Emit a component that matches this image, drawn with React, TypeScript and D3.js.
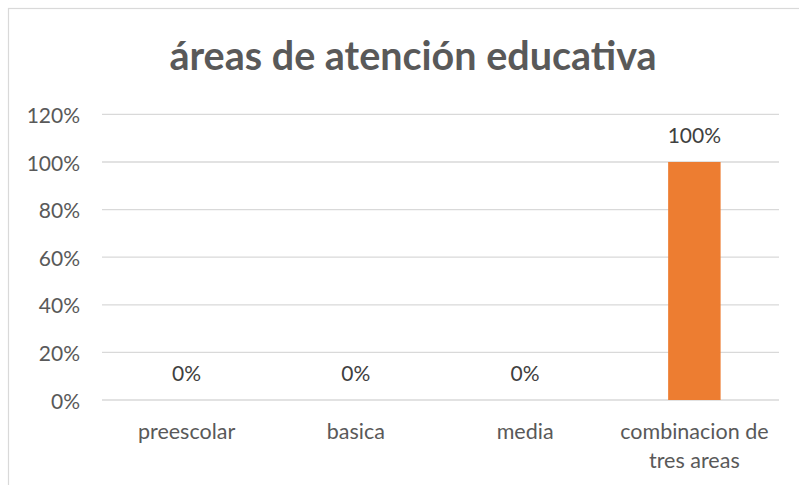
import React from "react";
import * as d3 from "d3";

const categories: string[][] = [["preescolar"], ["basica"], ["media"], ["combinacion de", "tres areas"]];
const values: number[] = [0, 0, 0, 1];
const yTicks: number[] = [0, 0.2, 0.4, 0.6, 0.8, 1.0, 1.2];
const title = "áreas de atención educativa";

const W = 799;
const H = 485;
const FONT = "Lato, 'Open Sans', sans-serif";

export default function App() {
  const left = 102;
  const right = 779;
  const x = d3
    .scaleBand<number>()
    .domain(values.map((_, i) => i))
    .range([left, right])
    .paddingInner(0.69)
    .paddingOuter(0.345);
  const band = d3.scaleBand<number>().domain(values.map((_, i) => i)).range([left, right]);
  const y = d3.scaleLinear().domain([0, 1.2]).range([400, 114.4]);
  const fmt = d3.format(".0%");

  return (
    <svg
      width={W}
      height={H}
      style={{ position: "absolute", left: 0, top: 0, background: "#fff" }}
    >
      <rect x={8.5} y={8.5} width={900} height={600} fill="#fff" stroke="#d9d9d9" strokeWidth={1.2} />
      <text
        x={413}
        y={70}
        textAnchor="middle"
        fontFamily={FONT}
        fontWeight="bold"
        fontSize={39.5}
        fill="#595959"
      >
        {title}
      </text>
      {yTicks.map((t) => (
        <g key={t}>
          <line x1={left} x2={right} y1={y(t)} y2={y(t)} stroke="#d9d9d9" strokeWidth={1.3} />
          <text
            x={80}
            y={y(t)}
            textAnchor="end"
            dominantBaseline="central"
            fontFamily={FONT}
            fontSize={21}
            fill="#595959"
          >
            {fmt(t)}
          </text>
        </g>
      ))}
      {values.map((v, i) => (
        <g key={i}>
          <rect
            x={x(i)}
            y={y(v)}
            width={x.bandwidth()}
            height={y(0) - y(v)}
            fill="#ed7d31"
          />
          <text
            x={(x(i) as number) + x.bandwidth() / 2}
            y={y(v) - 19}
            textAnchor="middle"
            fontFamily={FONT}
            fontSize={21}
            fill="#404040"
          >
            {fmt(v)}
          </text>
          {categories[i].map((line, j) => (
            <text
              key={j}
              x={(band(i) as number) + band.bandwidth() / 2}
              y={439 + j * 29}
              textAnchor="middle"
              fontFamily={FONT}
              fontSize={21.5}
              fill="#595959"
            >
              {line}
            </text>
          ))}
        </g>
      ))}
    </svg>
  );
}
